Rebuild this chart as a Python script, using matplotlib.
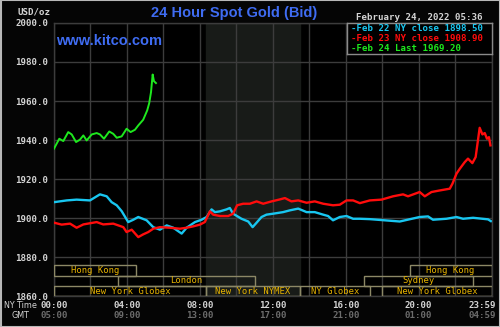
import matplotlib
matplotlib.use("Agg")
import matplotlib.pyplot as plt
import matplotlib.transforms as mtransforms
from matplotlib.patches import Rectangle

# hours after midnight NY time, price in USD/oz
feb22_hours = [0.0, 0.70, 1.24, 1.97, 2.52, 2.89, 3.16, 3.44, 3.71, 4.07, 4.35, 4.62,
               5.08, 5.44, 5.81, 6.18, 6.54, 7.00, 7.27, 7.73, 8.09, 8.37, 8.64, 8.82,
               9.10, 9.46, 9.64, 9.82, 10.28, 10.65, 10.89, 11.11, 11.38, 11.65, 12.02,
               12.56, 12.93, 13.39, 13.85, 14.30, 14.76, 15.03, 15.30, 15.67, 16.04,
               16.40, 16.77, 17.32, 18.96, 20.05, 20.51, 20.78, 21.52, 22.07, 22.43,
               22.98, 23.80, 23.95]
feb22_price = [1908.2, 1909.1, 1909.5, 1909.1, 1912.2, 1911.2, 1908.2, 1906.6, 1903.6,
               1898.0, 1899.2, 1900.6, 1898.9, 1895.4, 1894.1, 1896.3, 1895.1, 1892.1,
               1895.1, 1898.0, 1899.2, 1900.6, 1904.5, 1903.1, 1903.5, 1904.5, 1905.2,
               1902.3, 1899.7, 1898.3, 1895.4, 1897.7, 1900.6, 1901.8, 1902.3, 1903.1,
               1904.0, 1904.9, 1903.1, 1903.1, 1901.8, 1901.1, 1898.9, 1900.6, 1901.1,
               1899.7, 1899.7, 1899.5, 1898.3, 1900.6, 1900.9, 1899.2, 1899.7, 1900.6,
               1899.7, 1900.2, 1899.4, 1898.5]

feb23_hours = [0.0, 0.42, 0.88, 1.24, 1.61, 2.34, 2.70, 3.25, 3.80, 3.98, 4.26, 4.62,
               4.89, 5.17, 5.44, 5.81, 6.36, 6.90, 7.27, 7.63, 8.00, 8.27, 8.55, 8.73,
               9.10, 9.55, 9.82, 10.04, 10.37, 10.74, 11.11, 11.47, 11.93, 12.38, 12.66,
               13.02, 13.39, 13.85, 14.30, 14.76, 15.30, 15.67, 16.04, 16.40, 16.77,
               17.32, 17.96, 18.59, 19.14, 19.41, 20.05, 20.33, 20.70, 21.15, 21.70,
               21.85, 22.07, 22.25, 22.52, 22.70, 22.94, 23.12, 23.22, 23.34, 23.49,
               23.62, 23.74, 23.85, 23.93]
feb23_price = [1897.7, 1896.7, 1897.2, 1895.1, 1896.8, 1898.0, 1896.8, 1897.2, 1895.4,
               1892.9, 1894.1, 1890.3, 1891.7, 1892.9, 1894.6, 1895.4, 1895.1, 1894.6,
               1895.1, 1895.8, 1896.7, 1898.0, 1903.5, 1901.8, 1901.1, 1901.1, 1902.3,
               1906.6, 1907.4, 1907.4, 1908.6, 1907.4, 1908.6, 1909.6, 1910.3, 1908.6,
               1909.1, 1907.9, 1908.6, 1907.4, 1906.6, 1906.9, 1909.1, 1909.1, 1907.7,
               1909.1, 1909.5, 1911.2, 1912.2, 1911.2, 1913.4, 1911.2, 1913.4, 1914.2,
               1915.1, 1917.7, 1922.8, 1925.3, 1928.7, 1930.5, 1928.2, 1931.3, 1938.1,
               1946.3, 1942.9, 1943.6, 1940.7, 1941.5, 1937.3]

feb24_hours = [0.0, 0.29, 0.51, 0.78, 0.97, 1.21, 1.42, 1.61, 1.79, 2.07, 2.34, 2.52,
               2.74, 3.03, 3.25, 3.44, 3.71, 3.98, 4.20, 4.44, 4.62, 4.89, 5.11, 5.22,
               5.32, 5.41, 5.48, 5.59]
feb24_price = [1935.6, 1940.7, 1939.5, 1944.1, 1942.9, 1939.0, 1940.2, 1942.4, 1939.8,
               1942.9, 1943.6, 1942.9, 1940.7, 1944.4, 1943.2, 1941.2, 1941.9, 1945.8,
               1944.1, 1945.3, 1947.5, 1950.4, 1955.2, 1958.9, 1964.6, 1973.6, 1970.2,
               1969.2]

legend_lines = ["-Feb 22 NY close 1898.50",
                "-Feb 23 NY close 1908.90",
                "-Feb 24 Last 1969.20"]

# trading sessions: name, start hour, end hour, lane (0 = bottom)
session_names = ["New York Globex", "London", "Hong Kong", "New York NYMEX",
                 "NY Globex", "New York Globex", "Sydney", "Hong Kong"]
session_start = [0.0, 3.5, 0.0, 8.33, 13.5, 18.0, 17.0, 19.5]
session_end = [8.33, 11.0, 4.5, 13.5, 17.33, 24.0, 23.0, 24.0]
session_lane = [0, 1, 2, 0, 0, 0, 1, 2]

ny_ticks = [0, 4, 8, 12, 16, 20, 23.98]
ny_labels = ["00:00", "04:00", "08:00", "12:00", "16:00", "20:00", "23:59"]
gmt_labels = ["05:00", "09:00", "13:00", "17:00", "21:00", "01:00", "04:59"]

comex_open, comex_close = 8.33, 13.5

mono = "DejaVu Sans Mono"
label_gray = "#d4d4d4"
grid_gray = "#3c3c3c"
gold = "#e8b400"

fig = plt.figure(figsize=(5.0, 3.27), dpi=100, facecolor="#050505")
ax = fig.add_axes([0.108, 0.094, 0.8754, 0.8358], facecolor="black")

ax.axvspan(comex_open, comex_close, color="#181b18", zorder=0)

ax.set_xlim(0, 24)
ax.set_ylim(1860, 2000)
ax.set_xticks(range(0, 25, 2))
ax.set_yticks(range(1860, 2001, 20))
ax.grid(True, color=grid_gray, linewidth=1.0, zorder=1)
ax.tick_params(length=0, labelbottom=False, labelsize=6.6, labelcolor=label_gray, pad=4)
ax.set_yticklabels([f"{v:.1f}" for v in range(1860, 2001, 20)],
                   fontfamily=mono, fontweight="bold")
for sp in ax.spines.values():
    sp.set_color(grid_gray)
    sp.set_linewidth(1.0)

ax.plot(feb22_hours, feb22_price, color="#18c6f0", lw=1.7, zorder=4)
ax.plot(feb23_hours, feb23_price, color="#ff0c0c", lw=1.7, zorder=4)
ax.plot(feb24_hours, feb24_price, color="#1ee81e", lw=1.4, zorder=5)

# session boxes along the bottom of the plot
lane_h = 0.0377
box_tr = mtransforms.blended_transform_factory(ax.transData, ax.transAxes)
for name, s, e, lane in zip(session_names, session_start, session_end, session_lane):
    ax.add_patch(Rectangle((s, lane * lane_h), e - s, lane_h, transform=box_tr,
                           facecolor="none", edgecolor="#8c8866", lw=1.0, zorder=3))
    ax.text((s + e) / 2, lane * lane_h + lane_h / 2, name, transform=box_tr,
            ha="center", va="center", color=gold, fontsize=6.4, fontfamily=mono,
            zorder=6)

# time axis labels, NY and GMT rows
lbl_tr = mtransforms.blended_transform_factory(ax.transData, fig.transFigure)
for x, ny, gmt in zip(ny_ticks, ny_labels, gmt_labels):
    tr = lbl_tr
    if x > 23:
        tr = mtransforms.offset_copy(lbl_tr, fig=fig, x=-9, y=0, units="dots")
    fig.text(x, 1 - 305 / 327, ny, transform=tr, ha="center", va="center",
             color=label_gray, fontsize=6.6, fontfamily=mono, fontweight="bold")
    fig.text(x, 1 - 316 / 327, gmt, transform=tr, ha="center", va="center",
             color="#6c6c6c", fontsize=6.6, fontfamily=mono, fontweight="bold")
fig.text(0.008, 1 - 305 / 327, "NY Time", ha="left", va="center",
         color=label_gray, fontsize=5.8)
fig.text(0.022, 1 - 316 / 327, "GMT", ha="left", va="center",
         color=label_gray, fontsize=5.8)

fig.text(0.1, 1 - 12 / 327, "USD/oz", ha="right", va="center", color=label_gray,
         fontsize=6.6, fontfamily=mono, fontweight="bold")
fig.text(0.468, 1 - 13 / 327, "24 Hour Spot Gold (Bid)", ha="center", va="center",
         color="#3f6cf2", fontsize=10.5, fontfamily="Liberation Sans",
         fontweight="bold")
ax.text(0.004, 0.935, "www.kitco.com", transform=ax.transAxes, ha="left",
        va="center", color="#3f6cf2", fontsize=10.5, fontfamily="Liberation Sans",
        fontweight="bold", zorder=6)
fig.text(0.838, 1 - 17 / 327, "February 24, 2022 05:36", ha="center", va="center",
         color=label_gray, fontsize=6.6, fontfamily=mono, fontweight="bold")

# legend box in the top right corner
leg = ax.inset_axes([0.6694, 0.8866, 0.3306, 0.1134])
leg.set_facecolor("black")
leg.set_xticks([])
leg.set_yticks([])
leg.set_zorder(7)
for sp in leg.spines.values():
    sp.set_color("#8a8a8a")
    sp.set_linewidth(1.0)
for i, (txt, col) in enumerate(zip(legend_lines, ["#18c6f0", "#ff0c0c", "#1ee81e"])):
    leg.text(0.03, 0.82 - i * 0.32, txt, transform=leg.transAxes, ha="left",
             va="center", color=col, fontsize=6.6, fontfamily=mono, fontweight="bold")

# thin light frame around the whole image
fig.add_artist(Rectangle((0.001, 0.0015), 0.998, 0.997, transform=fig.transFigure,
                         facecolor="none", edgecolor="#b8b8b8", lw=1.5))

fig.savefig("out.png", dpi=100, facecolor=fig.get_facecolor())
